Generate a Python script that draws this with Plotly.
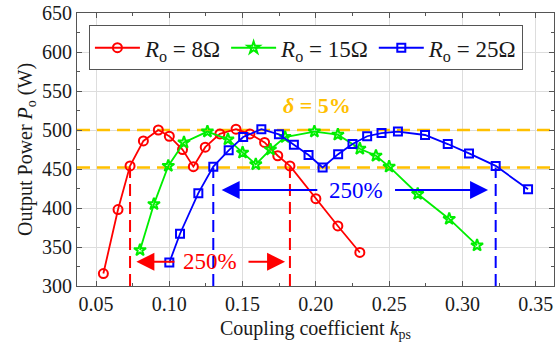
import plotly.graph_objects as go

# Output power versus coupling coefficient for three load resistances
k_8 = [0.055, 0.065, 0.0732, 0.0823, 0.0925, 0.100, 0.109, 0.1164, 0.1245, 0.1345,
       0.1455, 0.155, 0.165, 0.174, 0.1823, 0.200, 0.215, 0.230]
p_8 = [316, 398, 454, 486, 500, 492, 475, 453, 478, 495,
       501, 495, 484, 467, 454, 412, 377, 343]

k_15 = [0.080, 0.0895, 0.0993, 0.110, 0.126, 0.140, 0.150, 0.159, 0.169, 0.179,
        0.199, 0.215, 0.230, 0.241, 0.250, 0.2695, 0.291, 0.310]
p_15 = [346, 405, 454, 484, 498, 488, 471, 456, 475, 491,
        498, 494, 476, 467, 453, 418, 386, 352]

k_25 = [0.100, 0.1073, 0.1198, 0.130, 0.1405, 0.1504, 0.1628, 0.1748, 0.185, 0.195,
        0.2046, 0.2152, 0.225, 0.235, 0.2448, 0.256, 0.2745, 0.290, 0.3045, 0.3227, 0.3448]
p_25 = [330, 367, 419, 453, 474, 491, 501, 494.5, 481, 468,
        452, 469, 482, 492, 496, 498, 493.6, 482, 470, 454, 424]

# Power band limits (delta = 5%)
band = [500, 452]
# Coupling range boundaries for the 8-ohm and 25-ohm cases
range_8 = [0.0732, 0.1823]
range_25 = [0.130, 0.3227]

x_ticks = [0.05, 0.10, 0.15, 0.20, 0.25, 0.30, 0.35]
y_ticks = [300, 350, 400, 450, 500, 550, 600, 650]

RED, GREEN, BLUE, GOLD = "#FF0000", "#00EE00", "#0000FF", "#FFC000"
FONT = "Liberation Serif"

fig = go.Figure()

# horizontal band lines
for yv in band:
    fig.add_trace(go.Scatter(x=[0.037, 0.3625], y=[yv, yv], mode="lines",
                             line=dict(color=GOLD, width=2.5, dash="13px,7px"),
                             showlegend=False, hoverinfo="skip"))

# vertical boundary lines
for xv in range_8:
    fig.add_trace(go.Scatter(x=[xv, xv], y=[300, band[1]], mode="lines",
                             line=dict(color=RED, width=2, dash="12px,6px"),
                             showlegend=False, hoverinfo="skip"))
for xv in range_25:
    fig.add_trace(go.Scatter(x=[xv, xv], y=[300, band[1]], mode="lines",
                             line=dict(color=BLUE, width=2, dash="12px,6px"),
                             showlegend=False, hoverinfo="skip"))

series = [
    (k_8, p_8, RED, "circle-open", 9, "<i>R</i><sub>o</sub> = 8Ω"),
    (k_15, p_15, GREEN, "star-open", 9, "<i>R</i><sub>o</sub> = 15Ω"),
    (k_25, p_25, BLUE, "square-open", 8, "<i>R</i><sub>o</sub> = 25Ω"),
]
for kx, py, col, sym, sz, name in series:
    fig.add_trace(go.Scatter(
        x=kx, y=py, mode="lines+markers", name=name,
        line=dict(color=col, width=1.8),
        marker=dict(symbol=sym, size=sz, color=col, line=dict(width=2, color=col)),
    ))

# range arrows with labels
def range_arrow(x0, x1, xt, y, col):
    for tail, tip in ((x0[1], x0[0]), (x1[0], x1[1])):
        fig.add_annotation(x=tip, y=y, ax=tail, ay=y, xref="x", yref="y",
                           axref="x", ayref="y", text="", showarrow=True,
                           arrowhead=2, arrowsize=1.8, arrowwidth=2, arrowcolor=col)
    fig.add_annotation(x=xt, y=y, text="250%", showarrow=False,
                       font=dict(family=FONT, size=23, color=col))

range_arrow((0.0775, 0.1045), (0.1530, 0.1790), 0.1278, 331, RED)
range_arrow((0.1357, 0.2020), (0.2530, 0.3175), 0.2275, 423, BLUE)

fig.add_annotation(x=0.2005, y=531, text="<b><i>δ</i> = 5%</b>", showarrow=False,
                   font=dict(family=FONT, size=22, color=GOLD))

axis_common = dict(
    showline=True, linecolor="#555555", linewidth=1, mirror="allticks",
    ticks="inside", ticklen=5, tickcolor="#555555",
    showgrid=True, gridcolor="#DDDDDD", gridwidth=1, zeroline=False,
    tickfont=dict(family=FONT, size=20, color="#1a1a1a"),
    minor=dict(ticks="inside", ticklen=3, tickcolor="#555555", showgrid=False),
)

fig.update_xaxes(range=[0.037, 0.3625], tickvals=x_ticks,
                 ticktext=[f"{v:.2f}" for v in x_ticks],
                 minor_dtick=0.025,
                 title=dict(text="Coupling coefficient <i>k</i><sub>ps</sub>",
                            font=dict(family=FONT, size=20, color="#1a1a1a"), standoff=6),
                 **axis_common)
fig.update_yaxes(range=[300, 650], tickvals=y_ticks, minor_dtick=25,
                 title=dict(text="Output Power <i>P</i><sub>o</sub> (W)",
                            font=dict(family=FONT, size=20, color="#1a1a1a"), standoff=4),
                 **axis_common)

fig.update_layout(
    width=556, height=351,
    margin=dict(l=77, r=2, t=13, b=65),
    paper_bgcolor="white", plot_bgcolor="white",
    legend=dict(orientation="h", x=0.025, y=0.955, xanchor="left", yanchor="top",
                bgcolor="white", bordercolor="#555555", borderwidth=1,
                font=dict(family=FONT, size=23, color="#1a1a1a"),
                itemwidth=45, tracegroupgap=0),
)

fig.write_html("out.html")
